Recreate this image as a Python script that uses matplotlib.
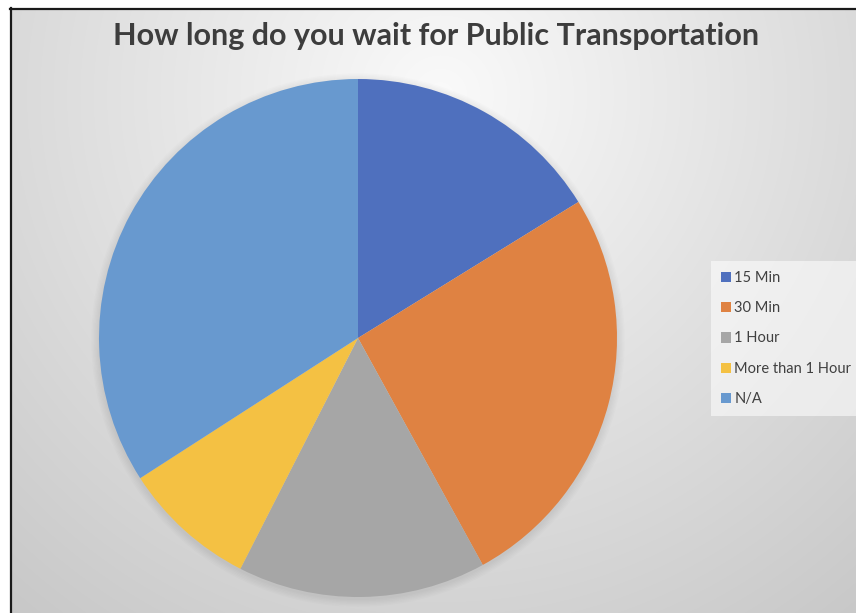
import numpy as np
import matplotlib
matplotlib.use("Agg")
import matplotlib.pyplot as plt
from matplotlib.patches import Circle
from matplotlib.lines import Line2D

# Survey answers: share of respondents per waiting time (percent)
categories = ["15 Min", "30 Min", "1 Hour", "More than 1 Hour", "N/A"]
shares = [16.2, 25.8, 15.5, 8.4, 34.1]
colors = ["#4F70BE", "#DF8242", "#A6A6A6", "#F4C143", "#6899CF"]
title = "How long do you wait for Public Transportation"

W, H = 856, 613
fig = plt.figure(figsize=(W / 100, H / 100), dpi=100)
fig.patch.set_facecolor("white")

# Soft radial grey background, brightest just under the title
bg = fig.add_axes([10 / W, 0, 1 - 10 / W, 1 - 8 / H])
yy, xx = np.mgrid[8:H, 10:W]
dist = np.hypot(xx - 440, yy - 95)
shade = np.clip(250 - 0.075 * dist, 0, 255) / 255.0
bg.imshow(np.dstack([shade, shade, shade]), aspect="auto", interpolation="bilinear",
          extent=[0, 1, 0, 1], origin="upper")
bg.set_xlim(0, 1)
bg.set_ylim(0, 1)
bg.axis("off")

# Frame lines on the left and top edges
fig.add_artist(Line2D([10.5 / W, 10.5 / W], [0, 1 - 8 / H], color="#1a1a1a", lw=1.6))
fig.add_artist(Line2D([10 / W, 1], [1 - 8.5 / H, 1 - 8.5 / H], color="#1a1a1a", lw=1.6))

# Pie, centred at (358, 338) px with radius 259 px
cx, cy, r = 358, 338, 259
ax = fig.add_axes([(cx - r) / W, (H - cy - r) / H, 2 * r / W, 2 * r / H])
for a in np.linspace(0.03, 0.004, 6):
    ax.add_patch(Circle((0.0, -0.008), 1.0 + a, color="black", alpha=0.012,
                        lw=0, zorder=0, clip_on=False))
wedges, _ = ax.pie(shares, colors=colors, startangle=90, counterclock=False,
                   wedgeprops=dict(linewidth=0), radius=1.0)
for w in wedges:
    w.set_zorder(2)
    w.set_clip_on(False)
ax.set_xlim(-1, 1)
ax.set_ylim(-1, 1)
ax.set_aspect("equal")
ax.axis("off")

# Title
fig.text(436 / W, 1 - 36 / H, title, ha="center", va="center",
         fontsize=22, fontweight="bold", color="#3d3d3d", family="Lato")

# Legend on the right
leg = fig.legend(wedges, categories, loc="center left",
                 bbox_to_anchor=(711 / W, 1 - 338.5 / H),
                 frameon=True, fancybox=False, framealpha=0.55,
                 facecolor="#ffffff", edgecolor="none",
                 prop=dict(family="Lato", size=10.5),
                 handlelength=0.7, handleheight=0.7, handletextpad=0.2,
                 labelspacing=1.12, borderpad=0.7, borderaxespad=0)
for t in leg.get_texts():
    t.set_color("#404040")

fig.savefig("out.png", dpi=100)
